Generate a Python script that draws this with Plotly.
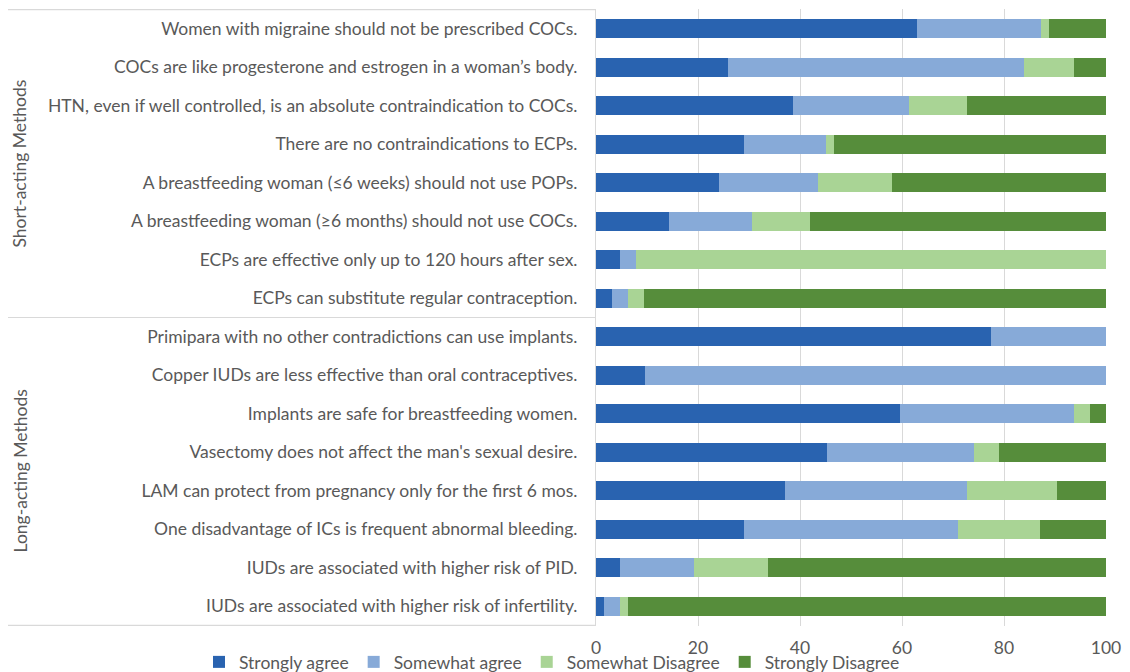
import plotly.graph_objects as go

categories = [
    "Women with migraine should not be prescribed COCs.",
    "COCs are like progesterone and estrogen in a woman\u2019s body.",
    "HTN, even if well controlled, is an absolute contraindication to COCs.",
    "There are no contraindications to ECPs.",
    "A breastfeeding woman (\u22646 weeks) should not use POPs.",
    "A breastfeeding woman (\u22656 months) should not use COCs.",
    "ECPs are effective only up to 120 hours after sex.",
    "ECPs can substitute regular contraception.",
    "Primipara with no other contradictions can use implants.",
    "Copper IUDs are less effective than oral contraceptives.",
    "Implants are safe for breastfeeding women.",
    "Vasectomy does not affect the man's sexual desire.",
    "LAM can protect from pregnancy only for the first 6 mos.",
    "One disadvantage of ICs is frequent abnormal bleeding.",
    "IUDs are associated with higher risk of PID.",
    "IUDs are associated with higher risk of infertility.",
]
groups = ["Short-acting Methods", "Long-acting Methods"]

strongly_agree = [62.9, 25.9, 38.6, 29.0, 24.2, 14.4, 4.7, 3.2,
                  77.4, 9.7, 59.7, 45.2, 37.1, 29.0, 4.7, 1.6]
somewhat_agree = [24.3, 58.1, 22.7, 16.1, 19.4, 16.1, 3.2, 3.0,
                  22.6, 90.3, 34.0, 29.0, 35.6, 42.0, 14.5, 3.1]
somewhat_disagree = [1.6, 9.7, 11.4, 1.6, 14.5, 11.4, 92.1, 3.3,
                     0.0, 0.0, 3.2, 4.9, 17.6, 16.1, 14.6, 1.6]
strongly_disagree = [11.2, 6.3, 27.3, 53.3, 41.9, 58.1, 0.0, 90.5,
                     0.0, 0.0, 3.1, 20.9, 9.7, 12.9, 66.2, 93.7]

series_names = ["Strongly agree", "Somewhat agree", "Somewhat Disagree", "Strongly Disagree"]
series_values = [strongly_agree, somewhat_agree, somewhat_disagree, strongly_disagree]
colors = ["#2963B0", "#87AAD8", "#A9D495", "#568D3B"]
x_ticks = [0, 20, 40, 60, 80, 100]

FONT = "Lato, Carlito, Calibri, sans-serif"
FS = 17.5
GRAY = "#595959"
LINE = "#D9D9D9"

fig = go.Figure()
for name, vals, col in zip(series_names, series_values, colors):
    fig.add_trace(go.Bar(
        y=categories, x=vals, name=name, orientation="h",
        marker=dict(color=col, line=dict(width=0)),
    ))

# page has an 8px body margin; figure is shifted accordingly
W, H = 1122, 664
L, R, T, B = 588, 24, 1, 46
pw = W - L - R
ph = H - T - B

fig.update_layout(
    width=W, height=H,
    barmode="stack", bargap=0.5,
    margin=dict(l=L, r=R, t=T, b=B, pad=0, autoexpand=False),
    paper_bgcolor="white", plot_bgcolor="white",
    font=dict(family=FONT, size=FS, color=GRAY),
    showlegend=True,
    legend=dict(
        orientation="h", xref="paper", yref="paper",
        x=(191 - L) / pw, xanchor="left",
        y=-18 / ph, yanchor="top",
        bgcolor="rgba(0,0,0,0)",
        font=dict(family=FONT, size=FS, color=GRAY),
        traceorder="normal", itemwidth=30,
        tracegroupgap=0,
    ),
    xaxis=dict(
        range=[0, 100], tickvals=x_ticks, showgrid=True, gridcolor=LINE, gridwidth=1,
        zeroline=False, showline=False, ticks="",
        ticklabelstandoff=9,
        tickfont=dict(family=FONT, size=FS, color=GRAY),
        fixedrange=True,
    ),
    yaxis=dict(
        type="category", autorange="reversed",
        showline=True, linecolor=LINE, linewidth=1,
        ticks="", showgrid=False,
        ticklabelstandoff=14,
        tickfont=dict(family=FONT, size=FS, color=GRAY),
    ),
)

# group separator lines (extend into left label area)
x_left = (0 - L) / pw
for yb in [-0.5, 7.5, 15.5]:
    fig.add_shape(type="line", xref="paper", yref="y", x0=x_left, x1=0,
                  y0=yb, y1=yb, line=dict(color=LINE, width=1.2), layer="below")

# group labels
for gname, ymid in zip(groups, [3.5, 11.5]):
    fig.add_annotation(text=gname, xref="paper", yref="y", x=(12 - L) / pw, y=ymid,
                       textangle=-90, showarrow=False, xanchor="center", yanchor="middle",
                       font=dict(family=FONT, size=FS, color=GRAY))

fig.write_html("out.html")
